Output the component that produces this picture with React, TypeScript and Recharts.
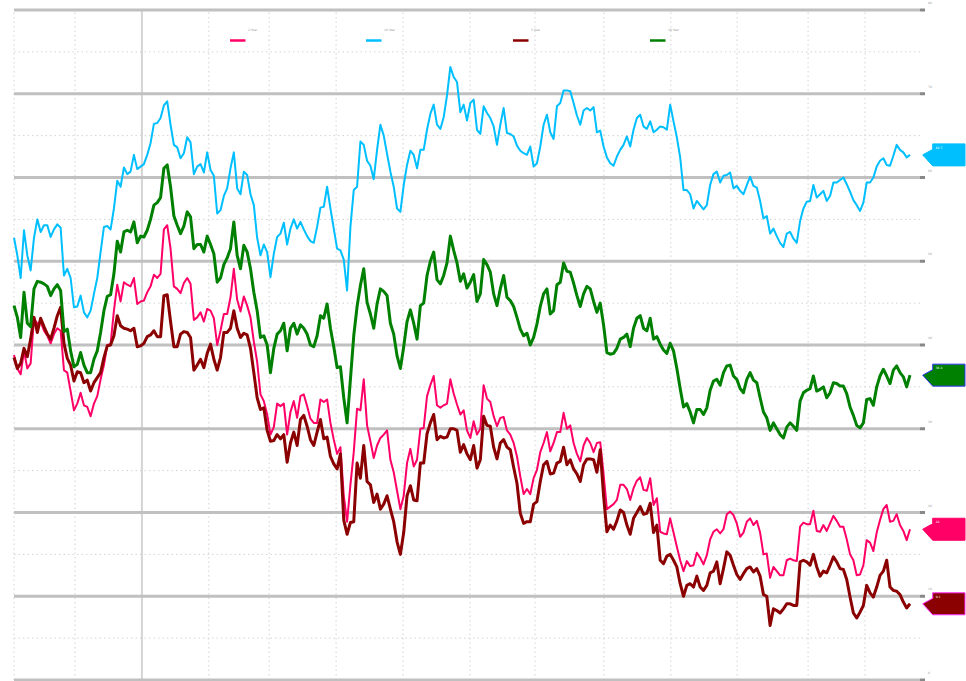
import React from 'react';
import { LineChart, Line, XAxis, YAxis, ReferenceLine, ReferenceDot, Legend } from 'recharts';

const seriesNames = ['2 Year', '10 Year', '5 Year', '30 Year'];
const seriesColors = ['#ff0066', '#00bfff', '#8b0000', '#008000'];
const flagBorders = ['#ff0066', '#00bfff', '#ff33ff', '#3333ff'];
const seriesWidths = [2, 2, 3, 3];

const pinkValues = [
  38.8, 37.2, 36.5, 39.3, 37.2, 37.8, 43.2, 42.5, 42.8, 41.7,
  41.1, 40.2, 41.3, 42.0, 41.7, 37.0, 36.7, 34.5, 32.2, 33.0,
  34.3, 32.8, 32.6, 31.5, 33.0, 33.9, 35.9, 37.6, 40.0, 40.1,
  44.1, 47.2, 45.2, 47.5, 47.2, 47.0, 48.0, 44.9, 45.2, 45.3,
  46.3, 47.0, 48.4, 48.0, 48.5, 53.8, 54.3, 51.5, 47.0, 46.7,
  46.2, 47.4, 48.0, 47.3, 43.0, 43.3, 43.9, 42.8, 44.3, 44.1,
  43.2, 40.0, 41.7, 43.7, 43.7, 45.7, 49.1, 45.4, 44.0, 45.8,
  44.7, 43.3, 40.4, 38.0, 34.1, 33.3, 31.7, 29.3, 30.2, 33.0,
  32.7, 33.0, 29.3, 32.0, 33.3, 31.3, 33.9, 34.1, 32.7, 31.2,
  30.7, 30.7, 33.5, 33.2, 33.5, 30.7, 28.7, 27.0, 27.8, 22.0,
  18.9, 23.3, 27.2, 32.4, 32.2, 35.9, 30.4, 28.5, 26.5, 28.0,
  28.9, 29.3, 29.8, 26.3, 24.8, 22.6, 20.4, 22.0, 25.9, 27.6,
  25.5, 26.3, 30.0, 30.1, 33.9, 35.2, 36.3, 32.8, 32.5, 32.8,
  33.0, 35.9, 34.2, 32.9, 31.7, 32.2, 29.8, 28.9, 30.9, 29.3,
  30.0, 35.2, 33.6, 33.2, 31.5, 30.3, 31.3, 31.4, 29.8, 29.3,
  28.3, 26.7, 24.3, 22.2, 22.8, 22.2, 24.1, 25.1, 27.2, 28.3,
  29.6, 27.3, 28.3, 29.6, 29.6, 31.9, 30.0, 30.4, 28.3, 27.0,
  26.1, 28.0, 28.9, 28.3, 27.2, 28.3, 28.4, 24.6, 20.4, 20.7,
  21.0, 21.5, 23.3, 23.3, 22.8, 21.5, 22.9, 23.8, 24.2, 22.7,
  22.6, 24.1, 20.9, 21.7, 17.7, 17.5, 17.4, 19.3, 17.6, 15.9,
  14.3, 13.0, 14.2, 13.6, 13.7, 15.2, 14.6, 13.8, 14.9, 16.8,
  17.7, 18.0, 17.5, 18.0, 19.8, 20.1, 19.7, 18.7, 17.1, 17.6,
  18.9, 19.3, 18.5, 19.0, 17.6, 15.0, 15.1, 12.2, 13.5, 13.0,
  12.5, 12.5, 14.3, 14.5, 14.3, 14.2, 18.3, 18.8, 18.6, 18.6,
  20.2, 17.8, 17.7, 18.5, 17.8, 18.7, 19.6, 19.0, 18.3, 18.3,
  16.8, 15.0, 14.3, 12.5, 12.6, 13.7, 16.7, 16.4, 15.4, 17.6,
  19.1, 20.4, 20.9, 18.9, 19.0, 19.8, 18.5, 17.8, 16.7, 18.0,
];

const cyanValues = [
  52.8, 50.7, 48.0, 53.7, 50.7, 48.9, 52.8, 55.0, 53.5, 54.3,
  54.3, 52.9, 53.8, 54.4, 54.0, 48.3, 49.1, 48.0, 44.5, 44.6,
  45.9, 43.9, 43.3, 44.1, 46.1, 48.0, 51.1, 54.1, 54.2, 53.8,
  56.3, 59.6, 58.9, 61.2, 60.4, 60.7, 62.7, 61.0, 61.3, 61.6,
  62.7, 64.1, 66.4, 66.5, 67.1, 68.6, 69.1, 66.3, 63.9, 63.6,
  62.3, 62.9, 64.8, 64.2, 60.4, 61.3, 61.6, 60.6, 63.0, 60.9,
  60.2, 55.7, 56.1, 57.8, 58.7, 61.1, 63.0, 58.7, 58.0, 60.7,
  60.3, 58.0, 56.7, 52.8, 50.7, 52.0, 51.1, 48.1, 50.9, 52.9,
  53.3, 54.6, 52.0, 53.9, 55.0, 53.9, 54.7, 53.8, 53.0, 52.4,
  52.2, 54.1, 56.4, 56.5, 58.9, 56.3, 53.9, 51.5, 51.3, 50.2,
  46.5, 54.1, 58.5, 58.9, 64.3, 63.9, 62.0, 61.4, 59.8, 63.3,
  66.3, 65.0, 62.8, 60.7, 58.9, 56.3, 55.9, 59.1, 61.5, 63.2,
  62.7, 61.1, 63.3, 63.3, 65.7, 67.6, 68.7, 66.3, 65.8, 67.2,
  69.8, 73.2, 72.0, 71.4, 67.8, 68.7, 66.8, 68.9, 69.3, 65.7,
  65.2, 68.5, 67.7, 67.1, 66.1, 63.9, 66.3, 68.3, 65.3, 65.2,
  64.9, 63.8, 63.2, 62.9, 62.7, 63.7, 61.3, 61.7, 63.7, 66.3,
  67.5, 65.4, 64.6, 68.5, 68.9, 70.4, 70.4, 70.3, 68.9, 67.4,
  66.3, 68.0, 68.3, 68.0, 68.4, 65.4, 65.6, 63.7, 62.4, 61.7,
  61.4, 62.5, 63.3, 63.9, 64.9, 63.7, 65.7, 67.1, 67.5, 66.1,
  65.8, 66.7, 65.4, 65.7, 66.1, 66.0, 65.7, 68.7, 66.7, 64.8,
  62.4, 58.5, 58.5, 58.0, 56.3, 57.2, 56.7, 56.2, 56.7, 59.1,
  60.4, 60.7, 59.4, 60.2, 60.3, 60.6, 58.7, 59.0, 58.4, 58.0,
  59.1, 60.1, 59.0, 58.8, 57.2, 55.1, 55.4, 53.3, 53.9, 53.0,
  52.2, 51.7, 53.3, 53.5, 52.7, 52.2, 54.8, 56.3, 57.1, 57.2,
  59.1, 57.6, 58.0, 58.4, 57.2, 57.8, 59.4, 59.4, 59.7, 60.0,
  59.2, 58.3, 57.3, 56.7, 56.0, 57.0, 59.4, 59.4, 60.0, 61.3,
  62.0, 62.3, 61.5, 61.4, 62.6, 63.9, 63.3, 63.0, 62.4, 62.7,
];

const darkRedValues = [
  38.5, 37.2, 37.8, 39.6, 38.6, 40.7, 43.3, 41.5, 43.2, 42.2,
  41.3, 40.7, 42.0, 43.5, 44.5, 40.2, 38.4, 37.6, 35.7, 36.8,
  36.7, 35.5, 35.8, 34.5, 35.5, 36.1, 36.7, 38.5, 39.9, 40.0,
  41.1, 43.5, 42.3, 42.0, 41.9, 41.7, 42.0, 39.8, 39.9, 40.2,
  41.0, 41.2, 41.7, 41.0, 41.0, 45.9, 46.0, 42.8, 39.8, 39.8,
  41.3, 41.6, 41.5, 40.9, 37.0, 37.6, 38.3, 37.3, 39.0, 40.1,
  38.3, 37.0, 38.5, 41.5, 41.5, 42.0, 44.1, 42.0, 40.9, 41.4,
  41.2, 39.6, 36.7, 33.7, 32.3, 32.5, 29.8, 28.5, 28.6, 29.3,
  28.8, 29.3, 26.0, 28.3, 29.6, 28.0, 31.1, 31.6, 30.3, 28.7,
  28.0, 29.6, 31.1, 28.8, 29.0, 26.7, 25.8, 25.2, 27.0, 19.1,
  17.4, 18.8, 18.9, 25.9, 24.1, 28.0, 23.7, 23.3, 21.2, 22.2,
  20.4, 21.0, 22.0, 20.4, 18.9, 16.5, 15.0, 17.6, 22.0, 23.2,
  21.5, 21.4, 25.9, 25.9, 29.4, 30.7, 31.7, 28.7, 29.1, 28.9,
  29.0, 30.0, 30.0, 29.8, 27.2, 28.1, 27.0, 26.3, 28.0, 25.3,
  26.3, 31.5, 30.4, 30.3, 27.8, 26.4, 28.3, 28.7, 27.8, 27.5,
  25.4, 23.5, 19.9, 18.7, 18.9, 18.9, 21.0, 21.3, 23.7, 25.7,
  26.1, 24.6, 24.7, 25.9, 26.1, 27.8, 25.7, 26.3, 25.2, 24.6,
  23.7, 25.7, 26.4, 26.4, 26.3, 24.8, 27.5, 22.0, 17.7, 18.5,
  18.0, 19.0, 20.3, 20.0, 18.5, 17.4, 19.3, 20.0, 20.7, 19.8,
  19.9, 21.1, 17.6, 18.5, 14.3, 13.9, 14.8, 15.0, 14.3, 13.5,
  11.5, 10.0, 11.3, 11.5, 11.1, 12.4, 11.1, 10.7, 11.3, 12.8,
  13.0, 14.1, 11.5, 13.3, 15.3, 14.9, 13.7, 12.6, 12.0, 12.7,
  13.3, 13.5, 12.9, 13.3, 12.4, 10.2, 10.0, 6.5, 8.5, 8.3,
  8.0, 8.5, 9.1, 9.1, 8.9, 8.9, 14.1, 14.3, 14.1, 13.7,
  15.0, 13.5, 12.4, 13.0, 12.8, 13.7, 14.7, 14.1, 13.3, 13.2,
  12.0, 9.9, 8.0, 7.4, 8.1, 8.9, 11.3, 10.4, 9.9, 11.1,
  12.5, 13.0, 14.3, 11.1, 10.7, 10.6, 10.2, 9.3, 8.6, 9.1,
];

const greenValues = [
  44.7, 43.3, 40.9, 46.3, 42.6, 42.2, 46.7, 47.6, 47.5, 47.3,
  47.0, 45.9, 46.7, 47.2, 46.5, 41.6, 41.9, 39.3, 37.4, 37.7,
  39.1, 37.6, 36.7, 36.7, 38.3, 39.3, 41.5, 44.1, 45.8, 46.0,
  48.5, 52.4, 51.1, 53.5, 53.7, 53.5, 54.7, 52.2, 53.0, 52.9,
  53.7, 55.0, 56.7, 57.0, 57.6, 61.1, 61.5, 58.9, 55.4, 54.3,
  53.3, 54.2, 55.9, 55.3, 51.5, 52.0, 52.0, 51.1, 53.0, 52.0,
  50.9, 47.5, 48.0, 49.6, 50.4, 51.5, 54.7, 50.7, 49.1, 51.9,
  51.1, 49.1, 46.3, 44.1, 40.9, 41.1, 40.0, 36.7, 39.6, 41.3,
  41.7, 42.6, 39.3, 42.0, 42.6, 41.3, 42.4, 42.0, 41.3, 40.0,
  39.8, 41.1, 43.5, 43.2, 44.9, 42.0, 39.8, 37.3, 37.4, 33.7,
  30.7, 35.9, 41.1, 44.6, 47.1, 49.1, 45.1, 43.7, 42.0, 44.9,
  46.7, 46.4, 45.9, 42.6, 41.3, 38.7, 37.2, 39.8, 42.8, 44.2,
  42.6, 40.7, 44.7, 45.0, 48.3, 50.0, 51.1, 47.8, 47.3, 48.3,
  49.8, 53.0, 51.3, 49.8, 47.6, 48.5, 46.8, 47.5, 48.4, 45.2,
  46.1, 50.2, 49.6, 48.7, 46.1, 44.7, 46.7, 48.3, 45.7, 45.3,
  44.6, 43.3, 41.9, 41.1, 41.4, 40.0, 40.9, 42.5, 44.6, 46.1,
  46.7, 43.7, 44.1, 47.2, 47.5, 49.8, 48.8, 48.7, 47.4, 45.9,
  44.6, 46.1, 47.0, 46.7, 45.2, 43.9, 45.0, 42.4, 39.1, 38.9,
  39.0, 39.6, 40.7, 40.9, 41.3, 39.8, 42.0, 43.2, 43.5, 42.0,
  41.7, 43.2, 40.7, 41.0, 40.1, 39.4, 39.0, 40.2, 39.3, 37.2,
  34.8, 32.6, 33.0, 32.0, 30.7, 32.3, 32.3, 31.7, 32.5, 34.6,
  35.7, 35.9, 35.2, 36.7, 37.5, 37.6, 36.3, 35.9, 34.8, 34.3,
  35.9, 36.7, 35.8, 35.5, 33.7, 32.0, 31.3, 29.8, 30.7, 30.0,
  29.3, 28.9, 30.2, 30.7, 30.3, 29.8, 33.3, 34.3, 34.6, 34.8,
  36.3, 34.5, 34.7, 35.0, 33.7, 34.3, 35.5, 35.4, 35.1, 35.1,
  34.2, 32.6, 31.6, 30.4, 30.1, 30.7, 33.5, 33.6, 32.8, 35.0,
  36.3, 37.1, 36.3, 35.4, 37.0, 37.5, 36.7, 36.2, 35.0, 36.4,
];

const seriesValues = [pinkValues, cyanValues, darkRedValues, greenValues];
const seriesKeys = ['s0', 's1', 's2', 's3'];

// x positions (trading-day index) of the monthly gridlines; the year boundary is solid
const monthTicks = [0, 18.3, 58.5, 76.6, 96.7, 116.8, 136.9, 156.4, 177.1, 197.2, 217.1, 238.4, 255.5];
const yearTick = 38.4;
const xDomainMax = 272;

const majorTicks = [0, 10, 20, 30, 40, 50, 60, 70, 80];
const minorTicks = [5, 15, 25, 35, 45, 55, 65, 75];

const legendX = [230, 366, 513, 650];

const data = pinkValues.map((_, i) => {
  const row: Record<string, number> = { i };
  seriesKeys.forEach((k, s) => {
    row[k] = seriesValues[s][i];
  });
  return row;
});

const lastIndex = pinkValues.length - 1;

const makeFlag = (fill: string, stroke: string, label: string) => (props: any) => {
  const { cx, cy } = props;
  if (cx == null || cy == null) return <g />;
  const tip = cx + 12.7;
  const x1 = cx + 22.7;
  const x2 = cx + 55;
  const pts = `${tip},${cy} ${x1},${cy - 5.5} ${x1},${cy - 11} ${x2},${cy - 11} ${x2},${cy + 11} ${x1},${cy + 11}`;
  return (
    <g>
      <polygon points={pts} fill={fill} stroke={stroke} strokeWidth={1} />
      <text x={x1 + 3} y={cy - 6} fontSize={3} fill="#ffffff" fontFamily="DejaVu Sans">
        {label}
      </text>
    </g>
  );
};

const RightTick = (props: any) => {
  const { x, y, payload } = props;
  return (
    <text x={x + 1} y={y - 6} fontSize={3} fill="#9a9a9a" fontFamily="DejaVu Sans">
      {payload.value}
    </text>
  );
};

const renderLegend = () => (
  <svg width={966} height={50}>
    {seriesNames.map((n, k) => (
      <g key={n}>
        <line x1={legendX[k]} y1={40.5} x2={legendX[k] + 15.5} y2={40.5} stroke={seriesColors[k]} strokeWidth={2.5} />
        <text x={legendX[k] + 18} y={31} fontSize={3} fill="#999999" fontFamily="DejaVu Sans">
          {n}
        </text>
      </g>
    ))}
  </svg>
);

export default function App() {
  return (
    <div style={{ position: 'absolute', left: 0, top: 0, width: 966, height: 681, background: '#ffffff' }}>
      <LineChart width={966} height={681} data={data} margin={{ top: 10, right: 0, bottom: 1, left: 14 }}>
        <XAxis dataKey="i" type="number" domain={[0, xDomainMax]} hide />
        <YAxis
          orientation="right"
          type="number"
          domain={[0, 80]}
          ticks={majorTicks}
          width={46}
          axisLine={false}
          tickSize={5}
          tickLine={{ stroke: '#888888', strokeWidth: 3 }}
          tick={<RightTick />}
          interval={0}
        />
        {minorTicks.map((v) => (
          <ReferenceLine key={'mn' + v} y={v} stroke="#d2d2d2" strokeWidth={1} strokeDasharray="1.5 3" />
        ))}
        {monthTicks.map((t) => (
          <ReferenceLine key={'mt' + t} x={t} stroke="#d2d2d2" strokeWidth={1} strokeDasharray="1.5 3" />
        ))}
        <ReferenceLine x={yearTick} stroke="#d4d4d4" strokeWidth={2} />
        {majorTicks.map((v) => (
          <ReferenceLine key={'mj' + v} y={v} stroke="#c0c0c0" strokeWidth={3} />
        ))}
        <Legend verticalAlign="middle" align="center" content={renderLegend} wrapperStyle={{ top: 0, left: 0, width: 966, height: 50 }} />
        {seriesKeys.map((k, s) => (
          <Line
            key={k}
            dataKey={k}
            name={seriesNames[s]}
            type="linear"
            stroke={seriesColors[s]}
            strokeWidth={seriesWidths[s]}
            strokeLinejoin="round"
            dot={false}
            activeDot={false}
            isAnimationActive={false}
          />
        ))}
        {seriesKeys.map((k, s) => (
          <ReferenceDot
            key={'flag' + k}
            x={lastIndex}
            y={seriesValues[s][lastIndex]}
            r={0}
            shape={makeFlag(seriesColors[s], flagBorders[s], String(seriesValues[s][lastIndex]))}
          />
        ))}
      </LineChart>
    </div>
  );
}
